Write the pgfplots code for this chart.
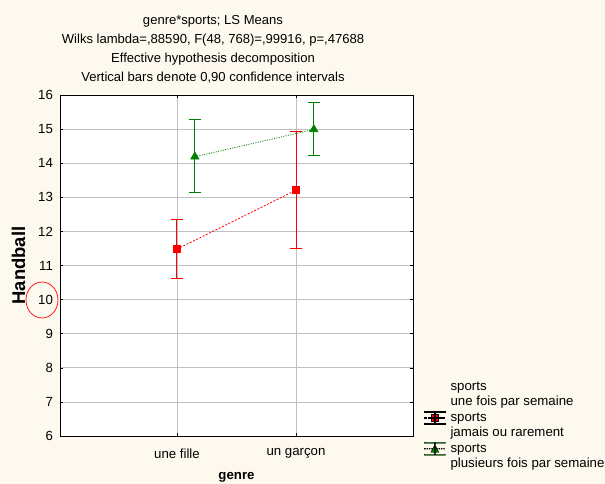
\documentclass[border=0pt]{standalone}
\usepackage{pgfplots}
\pgfplotsset{compat=1.18}
\usepackage{fontspec}
\setmainfont{Liberation Sans}
\definecolor{bgcol}{RGB}{253,249,238}
\definecolor{gridcol}{RGB}{192,192,192}
\definecolor{dgreen}{RGB}{0,128,0}
\definecolor{myred}{RGB}{255,0,0}
\begin{document}
\begin{tikzpicture}
\fill[bgcol] (0,0) rectangle (605bp,484bp);
\begin{axis}[
  at={(60bp,48bp)}, anchor=south west,
  scale only axis, width=353bp, height=341bp,
  xmin=-0.983, xmax=1.983, ymin=6, ymax=16,
  xtick={0,1}, xticklabels={une fille, un garçon},
  ytick={6,7,...,16},
  /pgf/number format/assume math mode=true,
  tick label style={font=\fontsize{13.3}{15}\selectfont},
  xticklabel style={yshift=-9bp},
  yticklabel style={xshift=-3.5bp},
  grid=major, major grid style={gridcol, line width=0.8pt},
  axis line style={black, line width=0.8pt},
  tick style={black, line width=0.6pt},
  major tick length=3bp, tick align=inside,
  axis background/.style={fill=white},
  xlabel={\textbf{genre}}, xlabel style={font=\fontsize{13.3}{15}\selectfont, at={(axis description cs:0.5,0)}, anchor=center, yshift=-41.5bp},
  ylabel={\textbf{Handball}}, ylabel style={font=\fontsize{18.5}{20}\selectfont, at={(axis description cs:-0.1176,0.5)}, anchor=center, rotate=0},
  legend style={at={(axis description cs:1.031,0.164)}, anchor=north west, draw=none, fill=none, inner sep=0pt,
     font=\fontsize{13.3}{15}\selectfont,
     nodes={inner sep=0pt, text height=10bp, text depth=3bp},
     row sep=2.35bp, column sep=5bp},
  legend cell align=left,
]
% red error bars
\addplot[draw=none, forget plot,
  error bars/.cd, y dir=both, y explicit,
  error bar style={draw=myred, solid, line width=1bp},
  error mark options={rotate=90, mark size=6.3bp, draw=myred, solid, line width=1bp}]
  coordinates {(0,11.48) +- (0,0.875) (1,13.21) +- (0,1.72)};
% red series
\addplot[color=myred, dash pattern=on 2pt off 1.6pt, line width=0.8pt, forget plot,
  mark=square*, mark size=3.6bp, mark options={solid, fill=myred, draw=myred}]
  coordinates {(0,11.48) (1,13.21)};
% green error bars
\addplot[draw=none, forget plot,
  error bars/.cd, y dir=both, y explicit,
  error bar style={draw=dgreen, solid, line width=1bp},
  error mark options={rotate=90, mark size=6.3bp, draw=dgreen, solid, line width=1bp}]
  coordinates {(0.15,14.19) += (0,1.08) -= (0,1.04) (1.15,14.99) += (0,0.80) -= (0,0.77)};
% green series
\addplot[color=dgreen, dash pattern=on 1pt off 1.4pt, line width=0.8pt, forget plot,
  mark=triangle*, mark size=4.6bp, mark options={solid, fill=dgreen, draw=dgreen}]
  coordinates {(0.15,14.19) (1.15,14.99)};
\addlegendimage{empty legend}
\addlegendentry{sports}
\addlegendimage{empty legend}
\addlegendentry{une fois par semaine}
\addlegendimage{legend image code/.code={
  \fill[fill=myred]
    (0bp,-0.4bp) rectangle (2bp,0.4bp)
    (3.6bp,-0.4bp) rectangle (5.6bp,0.4bp)
    (7.2bp,-0.4bp) rectangle (9.2bp,0.4bp)
    (10.8bp,-0.4bp) rectangle (12.8bp,0.4bp)
    (14.4bp,-0.4bp) rectangle (16.4bp,0.4bp)
    (18bp,-0.4bp) rectangle (20bp,0.4bp)
    (10bp,-6.5bp) rectangle (11bp,6.5bp)
    (0bp,-6.5bp) rectangle (21bp,-5.5bp)
    (0bp,5.5bp) rectangle (21bp,6.5bp)
    (7bp,-3.6bp) rectangle (14bp,3.6bp);}}
\addlegendentry{sports}
\addlegendimage{empty legend}
\addlegendentry{jamais ou rarement}
\addlegendimage{legend image code/.code={
  \fill[fill=dgreen]
    (0bp,-0.4bp) rectangle (1bp,0.4bp)
    (2.4bp,-0.4bp) rectangle (3.4bp,0.4bp)
    (4.8bp,-0.4bp) rectangle (5.8bp,0.4bp)
    (7.2bp,-0.4bp) rectangle (8.2bp,0.4bp)
    (12bp,-0.4bp) rectangle (13bp,0.4bp)
    (14.4bp,-0.4bp) rectangle (15.4bp,0.4bp)
    (16.8bp,-0.4bp) rectangle (17.8bp,0.4bp)
    (19.2bp,-0.4bp) rectangle (20.2bp,0.4bp)
    (10bp,-6.5bp) rectangle (11bp,6.5bp)
    (0bp,-6.5bp) rectangle (21bp,-5.5bp)
    (0bp,5.5bp) rectangle (21bp,6.5bp)
    (6.5bp,-3.5bp) -- (10.5bp,4bp) -- (14.5bp,-3.5bp) -- cycle;}}
\addlegendentry{sports}
\addlegendimage{empty legend}
\addlegendentry{plusieurs fois par semaine}
\end{axis}
\node[align=center, font=\fontsize{13.1}{19}\selectfont, inner sep=0pt] at (213bp,435bp)
  {genre*sports; LS Means\\Wilks lambda=,88590, F(48, 768)=,99916, p=,47688\\Effective hypothesis decomposition\\Vertical bars denote 0,90 confidence intervals};
\draw[myred, line width=0.7pt] (42bp,184bp) ellipse [x radius=16bp, y radius=18bp];
\pgfresetboundingbox
\path (0,0) rectangle (605bp,484bp);
\end{tikzpicture}
\end{document}
